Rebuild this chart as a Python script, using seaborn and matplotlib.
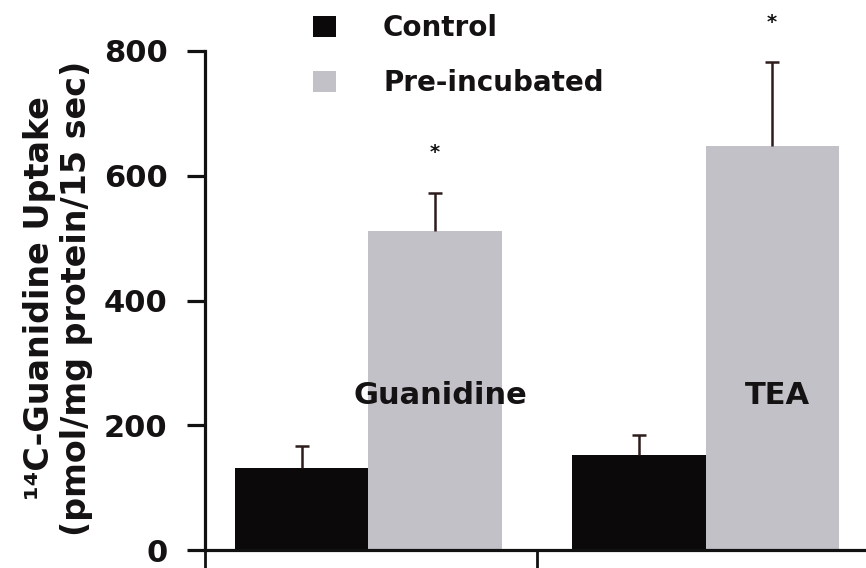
import matplotlib
matplotlib.use("Agg")
import matplotlib.pyplot as plt
import seaborn as sns
import pandas as pd
from matplotlib.patches import Patch

# ---- data ----
groups = ["Guanidine", "TEA"]
conditions = ["Control", "Pre-incubated"]
control_vals = [132, 153]
control_err = [35, 32]
pre_vals = [511, 647]
pre_err = [62, 135]
significant = [False, False, True, True]  # order: control G, control T, pre G, pre T
yticks = [0, 200, 400, 600, 800]
ylabel_lines = ["¹⁴C-Guanidine Uptake", "(pmol/mg protein/15 sec)"]

colors = ["#0b0909", "#c2c1c8"]
txt_color = "#141212"

sns.set_theme(style="white")
plt.rcParams["font.family"] = ["DejaVu Sans"]
plt.rcParams["font.weight"] = "bold"

df = pd.DataFrame({
    "group": groups * 2,
    "condition": [conditions[0]] * 2 + [conditions[1]] * 2,
    "value": control_vals + pre_vals,
    "err": control_err + pre_err,
})

fig = plt.figure(figsize=(8.66, 5.68), dpi=100)
ax = fig.add_axes([205 / 866, 18 / 568, (866 - 205) / 866, (550 - 51) / 568])

sns.barplot(data=df, x="group", y="value", hue="condition", order=groups,
            hue_order=conditions, palette=colors, width=0.79, saturation=1,
            errorbar=None, linewidth=0, legend=False, ax=ax)

# error bars (upward only) and asterisks, from bar geometry
bars = [p for p in ax.patches if p.get_height() > 0]
for p, err, sig in zip(bars, df["err"], significant):
    xc = p.get_x() + p.get_width() / 2
    h = p.get_height()
    _, caps, _ = ax.errorbar([xc], [h], yerr=[[0], [err]], fmt="none", ecolor="#2c1c1c",
                             elinewidth=1.8, capsize=4.7, capthick=1.8, clip_on=False, zorder=3)
    caps[0].set_visible(False)  # hide the lower cap
    if sig:
        ax.text(xc, h + err + 64, "*", ha="center", va="center", fontsize=14,
                fontweight="bold", color=txt_color, clip_on=False)

# group labels above the pre-incubated bars
pre_bars = bars[2:]
for p, g in zip(pre_bars, groups):
    ax.text(p.get_x() + p.get_width() / 2 + 0.015, 247, g, ha="center", va="center",
            fontsize=22, fontweight="bold", color=txt_color)

ax.set_ylim(0, 800)
xl = (-0.485, 1.476)
ax.set_xlim(*xl)
ax.set_yticks(yticks)
ax.set_yticklabels([str(t) for t in yticks], fontsize=22, fontweight="bold", color=txt_color)
ax.set_xticks([xl[0], 0.5])
ax.set_xticklabels(["", ""])
ax.set_xlabel("")
ax.set_ylabel("")

for s in ["top", "right"]:
    ax.spines[s].set_visible(False)
for s in ["left", "bottom"]:
    ax.spines[s].set_color("#111111")
    ax.spines[s].set_linewidth(2.3)

ax.tick_params(axis="y", direction="out", length=13, width=2.3, pad=14, colors="#111111", left=True)
ax.tick_params(axis="y", labelcolor=txt_color)
ax.tick_params(axis="x", direction="out", length=13, width=2.0, colors="#111111", bottom=True)

fig.text(40 / 866, 1 - 298 / 568, ylabel_lines[0], rotation=90, ha="center", va="center",
         fontsize=24, fontweight="bold", color=txt_color)
fig.text(77 / 866, 1 - 298 / 568, ylabel_lines[1], rotation=90, ha="center", va="center",
         fontsize=24, fontweight="bold", color=txt_color)

handles = [Patch(facecolor=c, edgecolor="none") for c in colors]
leg = fig.legend(handles, conditions, loc="upper left", bbox_to_anchor=(313 / 866, 1 - 14 / 568),
                 frameon=False, fontsize=20, handlelength=0.82, handleheight=0.82,
                 handletextpad=1.7, labelspacing=0.97, borderpad=0, borderaxespad=0)
for t in leg.get_texts():
    t.set_fontweight("bold")
    t.set_color(txt_color)

fig.savefig("out.png", dpi=100)
